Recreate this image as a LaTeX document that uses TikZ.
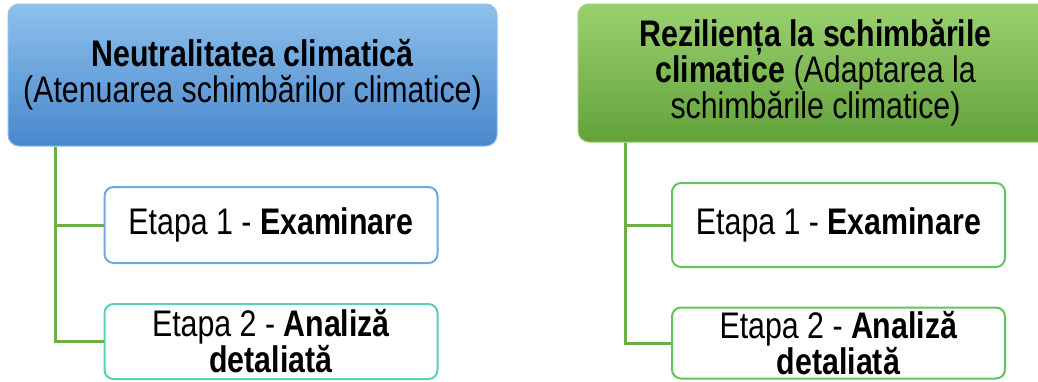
\documentclass[tikz,border=0pt]{standalone}
\usepackage{fontspec}
\setmainfont{Liberation Sans}[FakeStretch=0.82]
\usepackage{tikz}
\usetikzlibrary{arrows.meta}
\usepackage{xcolor}

\definecolor{blueTop}{HTML}{8DC0EC}
\definecolor{blueMid}{HTML}{5B9BD6}
\definecolor{blueBot}{HTML}{4987CC}
\definecolor{blueEdge}{HTML}{6FA9E0}
\definecolor{greenTop}{HTML}{9AD16F}
\definecolor{greenMid}{HTML}{6EAC45}
\definecolor{greenBot}{HTML}{62A23A}
\definecolor{greenEdge}{HTML}{62C45E}
\definecolor{tealEdge}{HTML}{5CCDBA}
\definecolor{linkGreen}{HTML}{70AD47}

\begin{document}
\begin{tikzpicture}[x=1pt, y=-1pt,
		every node/.style={font=\fontsize{37}{36}\selectfont, align=center, inner sep=0pt},
		head/.style={rounded corners=11pt, draw=#1Top, line width=1pt, top color=#1Top, middle color=#1Mid, bottom color=#1Bot},
		stage/.style={rounded corners=9pt, draw=#1, line width=2pt, fill=white, minimum width=333pt},
		link/.style={draw=linkGreen, line width=3pt}]
		\useasboundingbox (0,0) rectangle (1038,381);
		\clip (0,0) rectangle (1038,381);

		\node[head=blue, minimum width=489pt, minimum height=142pt] (neutru) at (252.5,75) {\textbf{Neutralitatea climatică}\\(Atenuarea schimbărilor climatice)};
		\node[head=green, minimum width=475pt, minimum height=138pt] (rezil) at (815.5,73) {\textbf{Reziliența la schimbările}\\\textbf{climatice} (Adaptarea la\\schimbările climatice)};

		\node[stage=blueEdge, minimum height=76pt] (ex1) at (271,225) {Etapa 1 - \textbf{Examinare}};
		\node[stage=tealEdge, minimum height=75pt] (an1) at (271,341.5) {Etapa 2 - \textbf{Analiză}\\\textbf{detaliată}};
		\node[stage=greenEdge, minimum height=84pt] (ex2) at (838.5,225) {Etapa 1 - \textbf{Examinare}};
		\node[stage=greenEdge, minimum height=71pt] (an2) at (838.5,343) {Etapa 2 - \textbf{Analiză}\\\textbf{detaliată}};

		\draw[link] ([xshift=48pt]neutru.south west) |- (ex1.west);
		\draw[link] ([xshift=48pt]neutru.south west) |- (an1.west);
		\draw[link] ([xshift=48pt]rezil.south west) |- (ex2.west);
		\draw[link] ([xshift=48pt]rezil.south west) |- (an2.west);
\end{tikzpicture}
\end{document}
